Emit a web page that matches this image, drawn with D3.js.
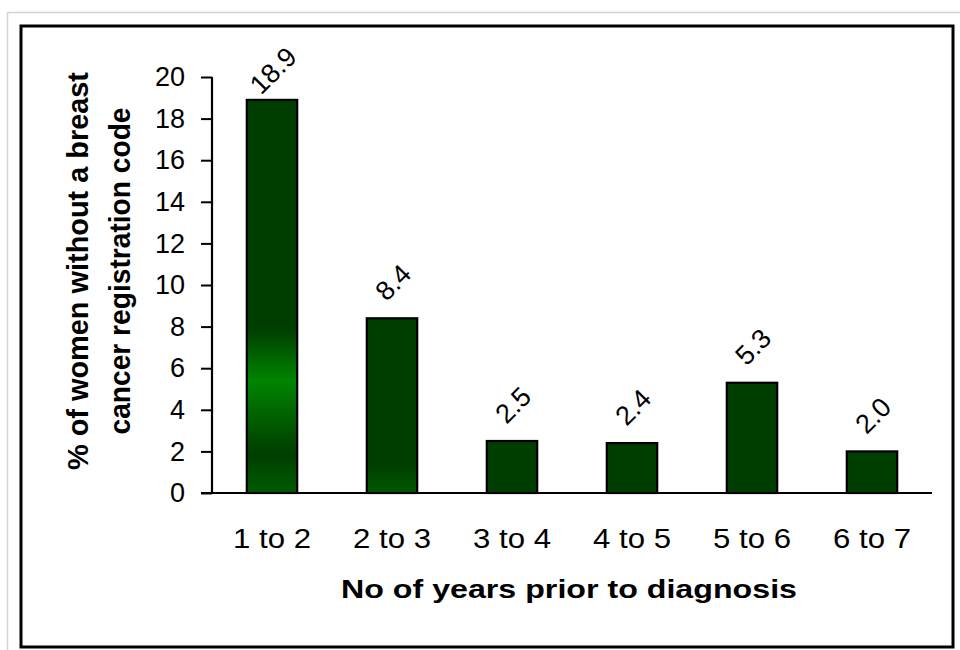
<!DOCTYPE html>
<html>
<head>
<meta charset="utf-8">
<script src="https://cdn.jsdelivr.net/npm/d3@7"></script>
<style>
  html, body { margin: 0; padding: 0; background: #fff; }
  svg { display: block; font-family: "Liberation Sans", Arial, sans-serif; }
</style>
</head>
<body>
<svg id="chart" width="960" height="650"></svg>
<script>
// Share of women without a breast cancer registration code, by years before diagnosis
const categories = ["1 to 2", "2 to 3", "3 to 4", "4 to 5", "5 to 6", "6 to 7"];
const values = [18.9, 8.4, 2.5, 2.4, 5.3, 2.0];
const yTicks = [0, 2, 4, 6, 8, 10, 12, 14, 16, 18, 20];
const xTitle = "No of years prior to diagnosis";
const yTitleLines = ["% of women without a breast", "cancer registration code"];

const svg = d3.select("#chart");
const plot = { left: 212, right: 932, top: 77, bottom: 493 };

// Frames: faint outer edge and the black chart border
svg.append("line").attr("x1", 7.5).attr("x2", 7.5).attr("y1", 12).attr("y2", 650)
  .attr("stroke", "#d4d4d4").attr("stroke-width", 1.5);
svg.append("line").attr("x1", 7).attr("x2", 960).attr("y1", 12.5).attr("y2", 12.5)
  .attr("stroke", "#d4d4d4").attr("stroke-width", 1.5);
svg.append("rect").attr("x", 21).attr("y", 26).attr("width", 932).attr("height", 621)
  .attr("fill", "none").attr("stroke", "#000").attr("stroke-width", 3);

const x = d3.scaleBand().domain(categories)
  .range([plot.left, plot.right]).paddingInner(0.58).paddingOuter(0.29);
const y = d3.scaleLinear().domain([0, 20]).range([plot.bottom, plot.top]);

// Gradient fills for the first two bars
const defs = svg.append("defs");
const gradStops = [
  [[0, "#003d00"], [0.58, "#003d00"], [0.715, "#008400"], [0.9, "#003d00"], [1, "#005c00"]],
  [[0, "#003d00"], [0.84, "#003d00"], [1, "#005a00"]]
];
gradStops.forEach((stops, i) => {
  const g = defs.append("linearGradient").attr("id", "barGrad" + i)
    .attr("x1", 0).attr("x2", 0).attr("y1", 0).attr("y2", 1);
  stops.forEach(([o, c]) => g.append("stop").attr("offset", o).attr("stop-color", c));
});
const fillFor = i => i < gradStops.length ? `url(#barGrad${i})` : "#003d00";

// Bars
svg.append("g").selectAll("rect").data(values).join("rect")
  .attr("x", (d, i) => x(categories[i]))
  .attr("y", d => y(d))
  .attr("width", x.bandwidth())
  .attr("height", d => y(0) - y(d))
  .attr("fill", (d, i) => fillFor(i))
  .attr("stroke", "#000").attr("stroke-width", 2.2);

// Y axis
const yAxis = svg.append("g").attr("transform", `translate(${plot.left},0)`)
  .call(d3.axisLeft(y).tickValues(yTicks).tickSize(11).tickPadding(16).tickFormat(d3.format("d")));
yAxis.select(".domain").attr("stroke", "#000").attr("stroke-width", 2.2)
  .attr("d", `M0,${plot.top}V${plot.bottom}`);
yAxis.selectAll(".tick line").attr("stroke", "#000").attr("stroke-width", 2);
yAxis.selectAll(".tick text").attr("font-size", 27).attr("fill", "#000")
  .attr("font-family", "Liberation Sans, Arial, sans-serif");

// X axis baseline and category labels
svg.append("line").attr("x1", plot.left - 11).attr("x2", plot.right)
  .attr("y1", plot.bottom).attr("y2", plot.bottom)
  .attr("stroke", "#000").attr("stroke-width", 2.2);
svg.append("g").selectAll("text").data(categories).join("text")
  .attr("x", d => x(d) + x.bandwidth() / 2)
  .attr("y", 548)
  .attr("text-anchor", "middle")
  .attr("font-size", 27)
  .attr("textLength", 78).attr("lengthAdjust", "spacingAndGlyphs")
  .text(d => d);

// Value labels, rotated, kept inside the chart area
const fmt = d3.format(".1f");
const labelTop = 44;
svg.append("g").selectAll("text").data(values).join("text")
  .attr("text-anchor", "middle")
  .attr("dy", "0.35em")
  .attr("font-size", 27)
  .text(d => fmt(d))
  .each(function (d, i) {
    const cx = x(categories[i]) + x.bandwidth() / 2;
    const node = d3.select(this);
    const bb = this.getBBox();
    const half = (bb.width + bb.height * 0.75) * Math.SQRT1_2 / 2;
    let cy = y(d) - 36;
    if (cy - half < labelTop) cy = labelTop + half;
    node.attr("transform", `translate(${cx + 1},${cy}) rotate(-45)`);
  });

// Axis titles
svg.append("text")
  .attr("x", (plot.left + plot.right) / 2 - 3).attr("y", 598)
  .attr("text-anchor", "middle")
  .attr("font-size", 26).attr("font-weight", "bold")
  .attr("textLength", 456).attr("lengthAdjust", "spacingAndGlyphs")
  .text(xTitle);

const yMid = 271;
const titleLens = [398, 327];
const titleBase = [88, 130];
yTitleLines.forEach((t, i) => {
  svg.append("text")
    .attr("transform", `translate(${titleBase[i]},${yMid}) rotate(-90)`)
    .attr("text-anchor", "middle")
    .attr("font-size", 29).attr("font-weight", "bold")
    .attr("textLength", titleLens[i]).attr("lengthAdjust", "spacingAndGlyphs")
    .text(t);
});
</script>
</body>
</html>
